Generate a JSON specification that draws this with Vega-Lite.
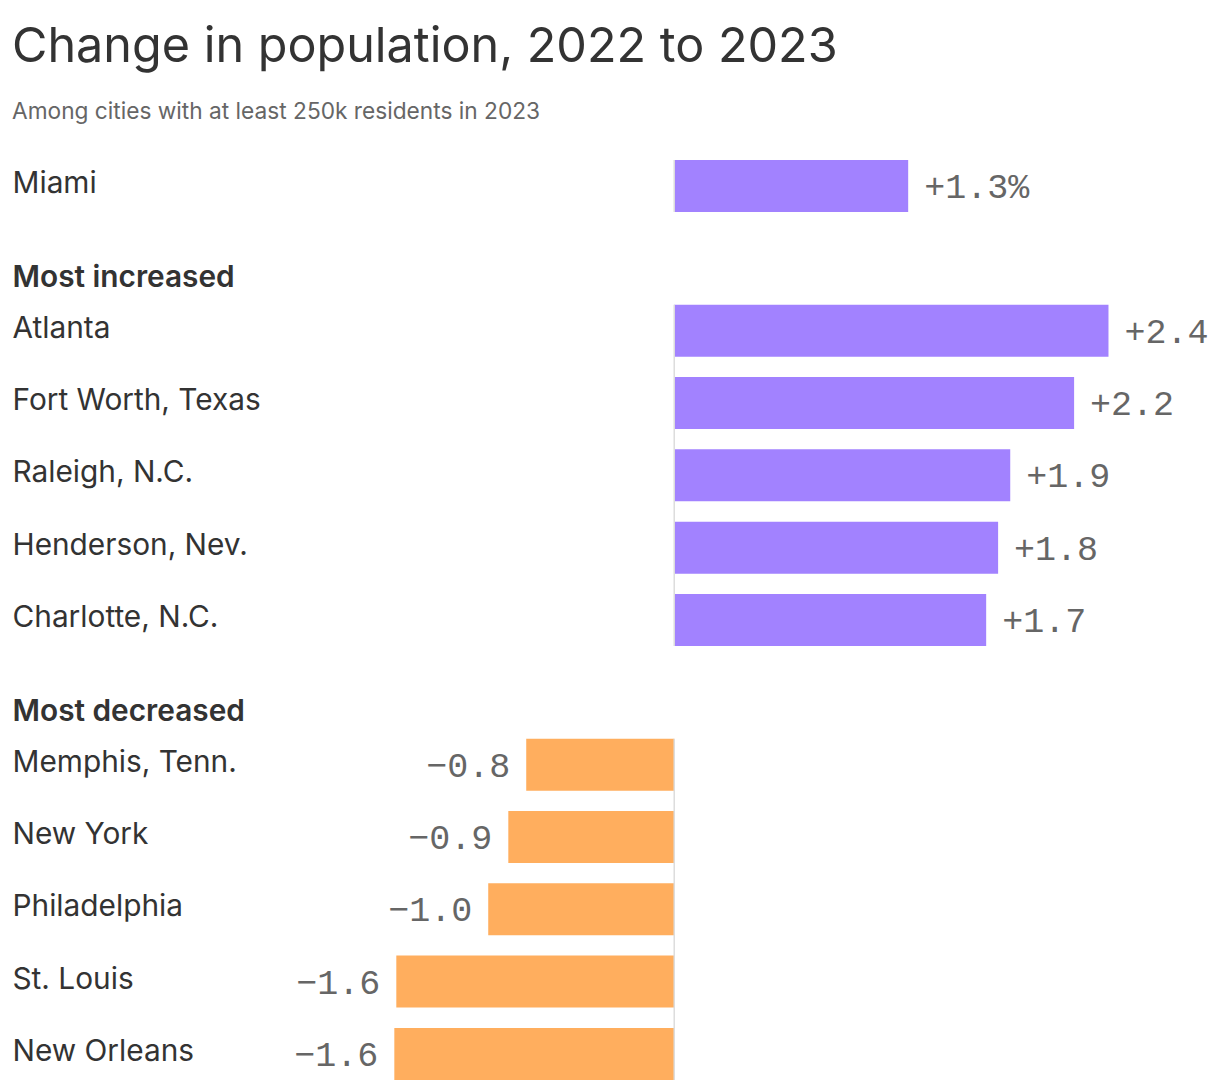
{
  "$schema": "https://vega.github.io/schema/vega-lite/v6.json",
  "autosize": "none",
  "width": 1196,
  "height": 940,
  "padding": {"left": 12, "top": 150, "right": 12, "bottom": 0},
  "background": "white",
  "title": {
    "text": "Change in population, 2022 to 2023",
    "subtitle": "Among cities with at least 250k residents in 2023",
    "anchor": "start",
    "frame": "group",
    "font": "Inter",
    "fontSize": 48.5,
    "fontWeight": 400,
    "color": "#333333",
    "subtitleFont": "Inter",
    "subtitleFontSize": 22.7,
    "subtitleColor": "#666666",
    "subtitlePadding": 29,
    "offset": 25
  },
  "datasets": {
    "rows": [
      {"city": "Miami", "value": 1.293, "label": "+1.3%", "group": "up"},
      {"city": "Most increased", "value": null, "label": "", "group": "header"},
      {"city": "Atlanta", "value": 2.4, "label": "+2.4", "group": "up"},
      {"city": "Fort Worth, Texas", "value": 2.21, "label": "+2.2", "group": "up"},
      {"city": "Raleigh, N.C.", "value": 1.857, "label": "+1.9", "group": "up"},
      {"city": "Henderson, Nev.", "value": 1.79, "label": "+1.8", "group": "up"},
      {"city": "Charlotte, N.C.", "value": 1.724, "label": "+1.7", "group": "up"},
      {"city": "Most decreased", "value": null, "label": "", "group": "header"},
      {"city": "Memphis, Tenn.", "value": -0.818, "label": "−0.8", "group": "down"},
      {"city": "New York", "value": -0.917, "label": "−0.9", "group": "down"},
      {"city": "Philadelphia", "value": -1.028, "label": "−1.0", "group": "down"},
      {"city": "St. Louis", "value": -1.536, "label": "−1.6", "group": "down"},
      {"city": "New Orleans", "value": -1.547, "label": "−1.6", "group": "down"}
    ],
    "spans": [
      {"from": "Miami", "to": "Miami"},
      {"from": "Atlanta", "to": "Charlotte, N.C."},
      {"from": "Memphis, Tenn.", "to": "New Orleans"}
    ]
  },
  "layer": [
    {
      "data": {"name": "rows"},
      "mark": {"type": "bar"},
      "encoding": {
        "y": {
          "field": "city",
          "type": "nominal",
          "sort": null,
          "scale": {
            "domain": ["Miami", "Most increased", "Atlanta", "Fort Worth, Texas", "Raleigh, N.C.", "Henderson, Nev.", "Charlotte, N.C.", "Most decreased", "Memphis, Tenn.", "New York", "Philadelphia", "St. Louis", "New Orleans"],
            "paddingInner": 0.281,
            "paddingOuter": 0.139
          },
          "axis": {
            "title": null,
            "domain": false,
            "ticks": false,
            "grid": false,
            "labelAlign": "left",
            "labelBaseline": "middle",
            "labelPadding": 0,
            "labelLimit": 600,
            "labelFont": "Inter",
            "labelFontSize": 29.8,
            "labelColor": "#333333",
            "labelFontWeight": {"condition": {"test": "datum.value === 'Most increased' || datum.value === 'Most decreased'", "value": 600}, "value": 400},
            "labelOffset": {"condition": {"test": "datum.value === 'Most increased' || datum.value === 'Most decreased'", "value": 20}, "value": -2}
          }
        },
        "x": {
          "field": "value",
          "type": "quantitative",
          "scale": {"domain": [-3.66, 2.95], "nice": false, "zero": false},
          "axis": null
        },
        "color": {
          "field": "group",
          "type": "nominal",
          "scale": {"domain": ["up", "down"], "range": ["#a282ff", "#ffae5e"]},
          "legend": null
        }
      }
    },
    {
      "data": {"name": "spans"},
      "mark": {"type": "rule", "color": "#dddddd", "strokeWidth": 1.5},
      "encoding": {
        "x": {"datum": 0, "type": "quantitative", "axis": null},
        "y": {"field": "from", "type": "nominal", "bandPosition": 0},
        "y2": {"field": "to", "bandPosition": 1}
      }
    },
    {
      "data": {"name": "rows"},
      "transform": [{"filter": "datum.value > 0"}],
      "mark": {"type": "text", "align": "left", "baseline": "middle", "dx": 16, "dy": 1, "font": "Liberation Mono", "fontSize": 35, "color": "#666666"},
      "encoding": {
        "y": {"field": "city", "type": "nominal"},
        "x": {"field": "value", "type": "quantitative", "axis": null},
        "text": {"field": "label"}
      }
    },
    {
      "data": {"name": "rows"},
      "transform": [{"filter": "datum.value < 0"}],
      "mark": {"type": "text", "align": "right", "baseline": "middle", "dx": -16, "dy": 1, "font": "Liberation Mono", "fontSize": 35, "color": "#666666"},
      "encoding": {
        "y": {"field": "city", "type": "nominal"},
        "x": {"field": "value", "type": "quantitative", "axis": null},
        "text": {"field": "label"}
      }
    }
  ],
  "config": {
    "view": {"stroke": null}
  }
}
